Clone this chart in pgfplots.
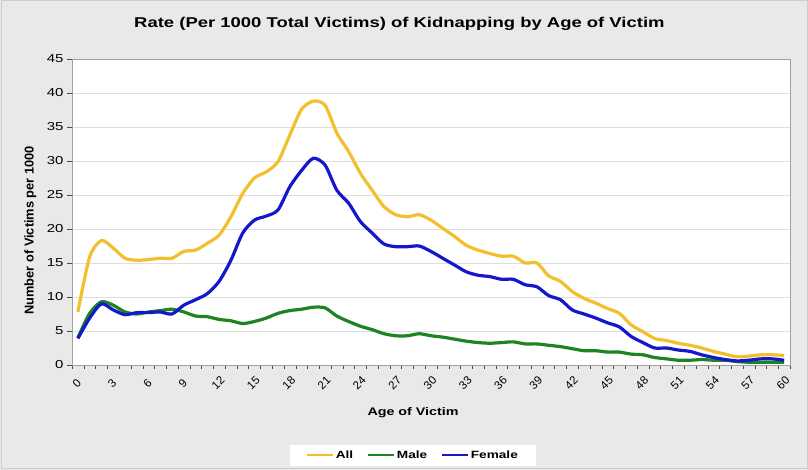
\documentclass[border=0pt]{standalone}
\usepackage{pgfplots}
\pgfplotsset{compat=1.18}
\usepackage{fontspec}
\setmainfont{Liberation Sans}
\newfontfamily\wide{Liberation Sans}[FakeStretch=1.3]
\definecolor{bgc}{RGB}{233,233,233}
\definecolor{frm}{RGB}{205,205,205}
\definecolor{cAll}{RGB}{242,192,46}
\definecolor{cMale}{RGB}{28,132,32}
\definecolor{cFem}{RGB}{22,22,205}
\definecolor{gridc}{RGB}{222,222,222}
\definecolor{boxc}{RGB}{160,160,160}
\pgfplotstableread{
age all male female
0 7.8 4.0 3.9
1 15.9 7.6 6.9
2 18.3 9.3 9.0
3 17.2 8.8 8.1
4 15.7 7.8 7.4
5 15.4 7.5 7.7
6 15.5 7.8 7.7
7 15.7 8.0 7.8
8 15.7 8.2 7.5
9 16.7 7.8 8.8
10 16.9 7.2 9.6
11 17.9 7.1 10.5
12 19.1 6.7 12.3
13 21.8 6.5 15.4
14 25.2 6.1 19.4
15 27.5 6.4 21.3
16 28.4 6.9 21.9
17 29.9 7.6 22.8
18 33.8 8.0 26.2
19 37.6 8.2 28.6
20 38.8 8.5 30.4
21 38.2 8.4 29.4
22 34.1 7.2 25.7
23 31.4 6.4 23.8
24 28.2 5.7 21.1
25 25.7 5.2 19.4
26 23.3 4.6 17.8
27 22.1 4.3 17.4
28 21.8 4.3 17.4
29 22.1 4.6 17.5
30 21.3 4.3 16.7
31 20.1 4.1 15.7
32 18.9 3.8 14.7
33 17.6 3.5 13.7
34 16.9 3.3 13.2
35 16.4 3.2 13.0
36 16.0 3.3 12.6
37 16.0 3.4 12.6
38 15.0 3.1 11.8
39 15.0 3.1 11.5
40 13.1 2.9 10.2
41 12.3 2.7 9.6
42 10.8 2.4 8.1
43 9.8 2.1 7.5
44 9.1 2.1 6.9
45 8.3 1.9 6.2
46 7.6 1.9 5.6
47 5.9 1.6 4.2
48 4.9 1.5 3.3
49 3.9 1.1 2.5
50 3.6 0.9 2.5
51 3.2 0.7 2.2
52 2.9 0.7 2.0
53 2.5 0.8 1.5
54 2.0 0.7 1.1
55 1.6 0.7 0.8
56 1.2 0.5 0.6
57 1.3 0.4 0.7
58 1.5 0.4 0.9
59 1.5 0.4 0.9
60 1.4 0.4 0.7
}\datatable
\begin{document}
\begin{tikzpicture}[x=1pt,y=1pt]
\fill[bgc] (0,0) rectangle (808,470);
\draw[frm,line width=1pt] (1,1) rectangle (807,469);
\begin{axis}[
  at={(72pt,105pt)}, anchor=south west,
  scale only axis, width=718pt, height=306pt,
  xmin=-0.5, xmax=60.5, ymin=0, ymax=45,
  axis background/.style={fill=white},
  axis line style={boxc},
  xtick={0,3,...,60},
  major x tick style={draw=none},
  minor xtick={-0.5,0.5,...,60.5},
  minor x tick style={black!70},
  minor tick length=4pt,
  ytick={0,5,...,45},
  major tick length=5pt,
  tick align=outside,
  tick pos=left,
  ytick style={black!70},
  ymajorgrids, grid style={gridc, line width=0.8pt},
  font=\bfseries,
  yticklabel style={font=\wide\fontsize{11.5}{12}\selectfont\mdseries},
  xticklabel style={yshift=-13pt, xshift=-1pt, rotate=45, anchor=center, font=\fontsize{11.5}{12}\selectfont\mdseries},
  /pgf/number format/assume math mode=true,
  title={Rate (Per 1000 Total Victims) of Kidnapping by Age of Victim},
  title style={font=\wide\fontsize{14.2}{16}\selectfont\bfseries, at={(axis description cs:0.456,1.095)}, anchor=center, yshift=0pt},
  xlabel={Age of Victim},
  xlabel style={font=\wide\fontsize{11}{13}\selectfont\bfseries, at={(axis description cs:0.475,-0.155)}, anchor=center},
  ylabel={Number of Victims per 1000},
  ylabel style={font=\fontsize{12.8}{13}\selectfont\bfseries, at={(axis description cs:-0.058,0.44)}, anchor=center, rotate=0},
  legend style={at={(axis description cs:0.475,-0.295)}, anchor=center, draw=none, fill=white,
    font=\wide\fontsize{10.5}{13}\selectfont\bfseries, legend columns=3,
    /tikz/every even column/.append style={column sep=12pt},
    inner xsep=16pt, inner ysep=4pt},
  legend image code/.code={\draw[#1, line width=1.6pt] (0pt,0pt) -- (26pt,0pt);},
  every axis plot/.append style={line width=3.2pt, smooth, tension=0.45},
]
\addplot[cAll] table[x=age,y=all] {\datatable};
\addplot[cMale] table[x=age,y=male] {\datatable};
\addplot[cFem] table[x=age,y=female] {\datatable};
\legend{All, Male, Female}
\end{axis}
\end{tikzpicture}
\end{document}
